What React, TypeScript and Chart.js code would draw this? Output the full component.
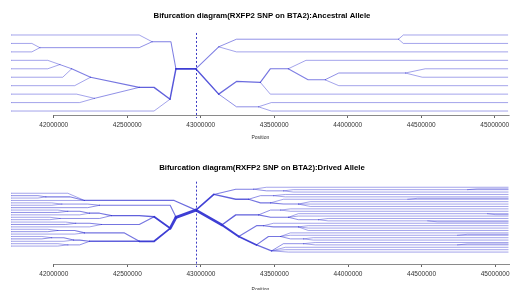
import React, { useEffect, useRef } from 'react';
import { Chart, registerables } from 'chart.js';

Chart.register(...registerables);

// ---------- data ----------
const tickValues = [42000000, 42500000, 43000000, 43500000, 44000000, 44500000, 45000000];
const corePosition = 42966000;
const ancestralTitle = 'Bifurcation diagram(RXFP2 SNP on BTA2):Ancestral Allele';
const derivedTitle = 'Bifurcation diagram(RXFP2 SNP on BTA2):Drived Allele';
const axisTitle = 'Position';

// each branch: [haplotype count, pos1, rank1, pos2, rank2, ...]
const ancestralLeft: number[][] = [
  [1, 41709000, 1, 42581000, 1, 42669000, 1.8],
  [1, 41709000, 2, 41851000, 2, 41905000, 2.5],
  [1, 41709000, 3, 41851000, 3, 41905000, 2.5],
  [2, 41905000, 2.5, 42581000, 2.5, 42669000, 1.8],
  [3, 42669000, 1.8, 42797000, 1.8, 42831000, 5],
  [1, 41709000, 4, 41959000, 4, 42041000, 4.5],
  [1, 41709000, 5, 41959000, 5, 42041000, 4.5],
  [2, 42041000, 4.5, 42122000, 5],
  [1, 41709000, 6, 42061000, 6, 42122000, 5],
  [3, 42122000, 5, 42250000, 6],
  [1, 41709000, 7, 42142000, 7, 42250000, 6],
  [4, 42250000, 6, 42581000, 7.2],
  [1, 41709000, 8, 42155000, 8, 42277000, 8.5],
  [1, 41709000, 9, 42176000, 9, 42277000, 8.5],
  [2, 42277000, 8.5, 42581000, 7.2],
  [6, 42581000, 7.2, 42682000, 7.2, 42791000, 8.6],
  [1, 41709000, 10, 42682000, 10, 42791000, 8.6],
  [7, 42791000, 8.6, 42831000, 5],
  [10, 42831000, 5, 42966000, 5],
];

const ancestralRight: number[][] = [
  [3, 42966000, 5, 43122000, 2.4],
  [2, 43122000, 2.4, 43243000, 1.5, 44345000, 1.5],
  [1, 44345000, 1.5, 44378000, 1, 45088000, 1],
  [1, 44345000, 1.5, 44378000, 2, 45088000, 2],
  [1, 43122000, 2.4, 43243000, 3, 45088000, 3],
  [7, 42966000, 5, 43122000, 8],
  [5, 43122000, 8, 43243000, 6.5, 43405000, 6.6],
  [2, 43122000, 8, 43243000, 9.5, 43392000, 9.5],
  [1, 43392000, 9.5, 43480000, 9, 45088000, 9],
  [1, 43392000, 9.5, 43480000, 10, 45088000, 10],
  [4, 43405000, 6.6, 43473000, 5, 43595000, 5],
  [1, 43405000, 6.6, 43473000, 8, 45088000, 8],
  [1, 43595000, 5, 43716000, 4, 45088000, 4],
  [3, 43595000, 5, 43730000, 6.3, 43845000, 6.3],
  [2, 43845000, 6.3, 43939000, 5.5, 44392000, 5.5],
  [1, 43845000, 6.3, 43939000, 7, 45088000, 7],
  [1, 44392000, 5.5, 44527000, 5, 45088000, 5],
  [1, 44392000, 5.5, 44507000, 6, 45088000, 6],
];

const derivedLeft: number[][] = [
  [1, 41709000, 1, 42095000, 1, 42209000, 4],
  [2, 41709000, 2, 41892000, 2, 41946000, 2.5],
  [1, 41709000, 3, 41892000, 3, 41946000, 2.5],
  [3, 41946000, 2.5, 42108000, 2.5, 42209000, 4],
  [1, 41709000, 4, 42209000, 4],
  [5, 42209000, 4, 42818000, 4, 42966000, 8],
  [1, 41709000, 5, 41986000, 5, 42054000, 5.5],
  [1, 41709000, 6, 41986000, 6, 42054000, 5.5],
  [2, 42054000, 5.5, 42230000, 5.5, 42311000, 6],
  [2, 41709000, 7, 42230000, 7, 42311000, 6],
  [4, 42311000, 6, 42791000, 6, 42831000, 11],
  [1, 41709000, 8, 42027000, 8, 42095000, 8.5],
  [2, 41709000, 9, 42027000, 9, 42095000, 8.5],
  [3, 42095000, 8.5, 42176000, 8.5, 42243000, 9.3],
  [1, 41709000, 10, 42176000, 10, 42243000, 9.3],
  [1, 41709000, 11, 41973000, 11, 42041000, 11.5],
  [1, 41709000, 12, 41973000, 12, 42041000, 11.5],
  [4, 42243000, 9.3, 42311000, 9.3, 42392000, 10.3],
  [2, 42041000, 11.5, 42311000, 11.5, 42392000, 10.3],
  [6, 42392000, 10.3, 42581000, 10.3, 42682000, 10.8],
  [1, 41709000, 13, 42081000, 13, 42149000, 13.5],
  [2, 41709000, 14, 42081000, 14, 42149000, 13.5],
  [3, 42149000, 13.5, 42243000, 13.5, 42324000, 14],
  [1, 41709000, 15, 42243000, 15, 42324000, 14],
  [4, 42324000, 14, 42581000, 14, 42682000, 10.8],
  [10, 42682000, 10.8, 42791000, 15.6],
  [1, 41709000, 16, 41959000, 16, 42027000, 16.5],
  [2, 41709000, 17, 41959000, 17, 42027000, 16.5],
  [3, 42027000, 16.5, 42142000, 16.5, 42209000, 17.5],
  [1, 41709000, 18, 42142000, 18, 42209000, 17.5],
  [1, 41709000, 19, 41919000, 19, 41986000, 19.5],
  [2, 41709000, 20, 41919000, 20, 41986000, 19.5],
  [3, 41986000, 19.5, 42068000, 19.5, 42135000, 20.5],
  [1, 41709000, 21, 42068000, 21, 42135000, 20.5],
  [1, 41709000, 22, 42027000, 22, 42095000, 22.5],
  [1, 41709000, 23, 42027000, 23, 42095000, 22.5],
  [4, 42135000, 20.5, 42176000, 20.5, 42243000, 21],
  [2, 42095000, 22.5, 42176000, 22.5, 42243000, 21],
  [6, 42243000, 21, 42581000, 21],
  [4, 42209000, 17.5, 42480000, 17.5, 42581000, 21],
  [10, 42581000, 21, 42682000, 21, 42791000, 15.6],
  [20, 42791000, 15.6, 42831000, 11],
  [24, 42831000, 11, 42966000, 8],
];

const derivedRight: number[][] = [
  [9, 42966000, 8, 43088000, 1.5],
  [3, 43088000, 1.5, 43237000, -0.7, 43358000, -0.7],
  [1, 43358000, -0.7, 43446000, -1.5, 45088000, -1.5],
  [2, 43358000, -0.7, 43446000, 0, 43561000, 0],
  [1, 43561000, 0, 43628000, -0.5, 45088000, -0.5],
  [1, 43561000, 0, 43628000, 0.5, 45088000, 0.5],
  [6, 43088000, 1.5, 43237000, 3.5, 43324000, 3.5],
  [2, 43324000, 3.5, 43405000, 2, 43493000, 2],
  [1, 43493000, 2, 43574000, 1.5, 45088000, 1.5],
  [1, 43493000, 2, 43574000, 2.5, 45088000, 2.5],
  [4, 43324000, 3.5, 43405000, 5, 43473000, 5],
  [1, 43473000, 5, 43561000, 3.5, 45088000, 3.5],
  [3, 43473000, 5, 43561000, 5.5, 43662000, 5.5],
  [1, 43662000, 5.5, 43743000, 4.5, 45088000, 4.5],
  [1, 43662000, 5.5, 43743000, 5.5, 45088000, 5.5],
  [1, 43662000, 5.5, 43743000, 6.5, 45088000, 6.5],
  [19, 42966000, 8, 43142000, 14.2],
  [6, 43142000, 14.2, 43237000, 10, 43392000, 10],
  [2, 43392000, 10, 43473000, 8, 43541000, 8],
  [1, 43541000, 8, 43608000, 7.5, 45088000, 7.5],
  [1, 43541000, 8, 43608000, 8.5, 45088000, 8.5],
  [4, 43392000, 10, 43473000, 11, 43595000, 11],
  [1, 43595000, 11, 43662000, 9.5, 45088000, 9.5],
  [1, 43595000, 11, 43662000, 10.5, 45088000, 10.5],
  [2, 43595000, 11, 43662000, 12, 43797000, 12],
  [1, 43797000, 12, 43865000, 11.5, 45088000, 11.5],
  [1, 43797000, 12, 43865000, 12.5, 45088000, 12.5],
  [13, 43142000, 14.2, 43257000, 19],
  [4, 43257000, 19, 43378000, 14.5, 43426000, 14.5],
  [1, 43426000, 14.5, 43493000, 13.5, 45088000, 13.5],
  [3, 43426000, 14.5, 43493000, 15, 43662000, 15],
  [1, 43662000, 15, 43730000, 14.5, 45088000, 14.5],
  [1, 43662000, 15, 43730000, 15.5, 45088000, 15.5],
  [1, 43662000, 15, 43730000, 16.5, 45088000, 16.5],
  [9, 43257000, 19, 43378000, 22.5],
  [4, 43378000, 22.5, 43459000, 19, 43541000, 19],
  [1, 43541000, 19, 43608000, 17.5, 45088000, 17.5],
  [1, 43541000, 19, 43608000, 18.5, 45088000, 18.5],
  [2, 43541000, 19, 43608000, 20, 43696000, 20],
  [1, 43696000, 20, 43764000, 19.5, 45088000, 19.5],
  [1, 43696000, 20, 43764000, 20.5, 45088000, 20.5],
  [5, 43378000, 22.5, 43480000, 25],
  [2, 43480000, 25, 43561000, 22, 43696000, 22],
  [1, 43696000, 22, 43777000, 21.5, 45088000, 21.5],
  [1, 43696000, 22, 43777000, 22.5, 45088000, 22.5],
  [1, 43480000, 25, 43574000, 23.5, 45088000, 23.5],
  [1, 43480000, 25, 43574000, 24.5, 45088000, 24.5],
  [1, 43480000, 25, 43595000, 25.5, 45088000, 25.5],
  [1, 44811000, -0.5, 44878000, -0.85, 45088000, -0.85],
  [1, 44405000, 3.5, 44473000, 3.1, 45088000, 3.1],
  [1, 44946000, 9.5, 45000000, 9.9, 45088000, 9.9],
  [1, 44541000, 12.5, 44608000, 12.9, 45088000, 12.9],
  [1, 44743000, 18.5, 44811000, 18.1, 45088000, 18.1],
  [1, 44743000, 22.5, 44811000, 22.1, 45088000, 22.1],
];

// ---------- rendering ----------
const FONT = "'Liberation Sans', Arial, Helvetica, sans-serif";

function toDatasets(branches: number[][]) {
  return branches.map((b) => {
    const n = b[0];
    const pts: { x: number; y: number }[] = [];
    for (let i = 1; i < b.length; i += 2) pts.push({ x: b[i], y: b[i + 1] });
    const w = Math.min(2.9, 0.75 + 0.1 * n);
    const a = Math.min(0.95, 0.48 + 0.05 * n);
    return {
      data: pts,
      showLine: true,
      borderColor: `rgba(52,52,210,${a})`,
      borderWidth: w,
      pointRadius: 0,
      fill: false,
      tension: 0,
      borderCapStyle: 'round' as const,
      borderJoinStyle: 'round' as const,
    };
  });
}

const overlay = {
  id: 'overlay',
  afterDatasetsDraw(chart: any) {
    const { ctx, chartArea, scales } = chart;
    const x = scales.x;
    ctx.save();
    const cx = Math.round(x.getPixelForValue(corePosition)) + 0.5;
    ctx.strokeStyle = 'rgba(40,40,190,0.9)';
    ctx.lineWidth = 1;
    ctx.setLineDash([2, 2]);
    ctx.beginPath();
    ctx.moveTo(cx, chartArea.top);
    ctx.lineTo(cx, chartArea.bottom + 3);
    ctx.stroke();
    ctx.setLineDash([]);
    ctx.strokeStyle = '#8a8a8a';
    const y0 = Math.round(chartArea.bottom) + 0.5;
    ctx.beginPath();
    ctx.moveTo(x.getPixelForValue(tickValues[0]), y0);
    ctx.lineTo(chartArea.right, y0);
    ctx.stroke();
    ctx.restore();
  },
};

type PanelProps = {
  title: string;
  branches: number[][];
  yMin: number;
  yMax: number;
  height: number;
  titlePad: { top: number; bottom: number };
  tickPad: number;
  axisTitlePad: { top: number; bottom: number };
};

function Panel(p: PanelProps) {
  const ref = useRef<HTMLCanvasElement>(null);
  useEffect(() => {
    if (!ref.current) return;
    const chart = new Chart(ref.current, {
      type: 'scatter',
      data: { datasets: toDatasets(p.branches) as any },
      plugins: [overlay],
      options: {
        animation: false,
        responsive: false,
        events: [],
        layout: { padding: { left: 11, right: 0, top: 0, bottom: 0 } },
        plugins: {
          legend: { display: false },
          tooltip: { enabled: false },
          title: {
            display: true,
            text: p.title,
            color: '#000',
            font: { family: FONT, size: 7.8, weight: 'bold', lineHeight: 1.2 },
            padding: p.titlePad,
          },
        },
        scales: {
          x: {
            type: 'linear',
            min: 41709000,
            max: 45101000,
            afterBuildTicks: (s: any) => {
              s.ticks = tickValues.map((v) => ({ value: v }));
            },
            ticks: {
              callback: (v: any) => String(v),
              color: '#333',
              font: { family: FONT, size: 6.5, lineHeight: 1.2 },
              padding: p.tickPad,
              maxRotation: 0,
              autoSkip: false,
            },
            grid: { display: true, drawOnChartArea: false, drawTicks: true, tickLength: 3, color: '#666' },
            border: { display: false },
            title: {
              display: true,
              text: axisTitle,
              color: '#333',
              font: { family: FONT, size: 5, lineHeight: 1.2 },
              padding: p.axisTitlePad,
            },
          },
          y: { type: 'linear', display: false, reverse: true, min: p.yMin, max: p.yMax },
        },
      } as any,
    });
    return () => chart.destroy();
  }, []);
  return <canvas ref={ref} width={513} height={p.height} style={{ display: 'block', width: 513, height: p.height }} />;
}

export default function App() {
  return (
    <div style={{ position: 'absolute', left: 0, top: 0, width: 513, height: 290, overflow: 'hidden', background: '#fff' }}>
      <Panel
        title={ancestralTitle}
        branches={[...ancestralLeft, ...ancestralRight]}
        yMin={0.76}
        yMax={10.47}
        height={145}
        titlePad={{ top: 11.3, bottom: 12.3 }}
        tickPad={3.8}
        axisTitlePad={{ top: 1.3, bottom: 4.3 }}
      />
      <Panel
        title={derivedTitle}
        branches={[...derivedLeft, ...derivedRight]}
        yMin={-3.83}
        yMax={30.46}
        height={155}
        titlePad={{ top: 18.0, bottom: 9.3 }}
        tickPad={3.4}
        axisTitlePad={{ top: 5.4, bottom: 7 }}
      />
    </div>
  );
}
